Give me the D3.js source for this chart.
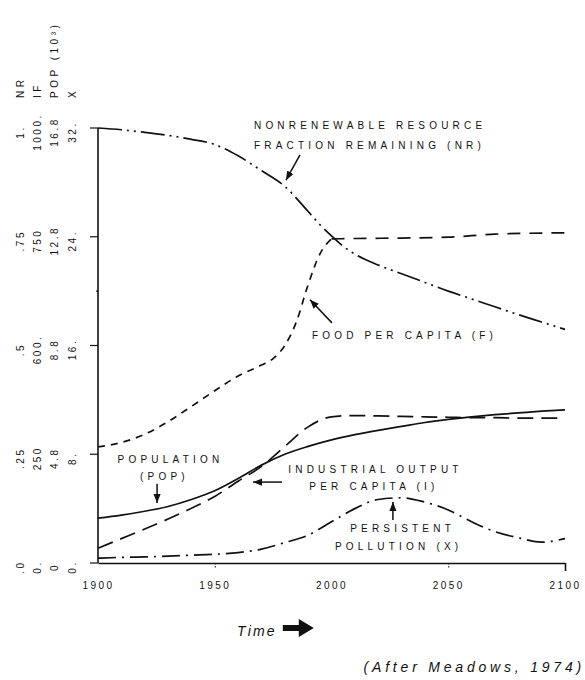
<!DOCTYPE html>
<html>
<head>
<meta charset="utf-8">
<script src="https://cdnjs.cloudflare.com/ajax/libs/d3/7.8.5/d3.min.js"></script>
<style>
body{margin:0;background:#fff;}
text{font-family:"Liberation Sans",Arial,sans-serif;fill:#111;}
</style>
</head>
<body>
<div id="chart"></div>
<script>
const width=585;
const height=680;
const margin={top:128,right:20,bottom:117,left:98};

// values on the shared 0..1 (fraction of full scale) axis
const years=[1900,1910,1920,1930,1940,1950,1960,1970,1980,1990,2000,2010,2020,2030,2040,2050,2060,2070,2080,2090,2100];
const population=[.103,.110,.119,.130,.146,.166,.194,.225,.250,.268,.283,.295,.305,.314,.323,.330,.336,.341,.345,.349,.352];
const industrial=[.034,.056,.078,.101,.126,.153,.188,.222,.268,.313,.336,.339,.338,.337,.336,.335,.334,.334,.333,.333,.333];
const pollution=[.011,.013,.014,.016,.018,.020,.024,.032,.047,.064,.095,.125,.146,.150,.140,.122,.095,.072,.058,.048,.056];
const nrYears=[1900,1910,1920,1930,1940,1950,1960,1970,1980,1990,1995,2000,2005,2010,2020,2030,2040,2050,2060,2070,2080,2090,2100];
const resources=[1.0,.996,.99,.983,.974,.962,.936,.902,.866,.808,.778,.752,.728,.71,.685,.665,.645,.625,.607,.589,.571,.554,.537];
const foodYears=[1900,1910,1920,1930,1940,1950,1960,1970,1975,1980,1985,1990,1995,2000,2010,2030,2050,2070,2100];
const food=[.267,.277,.296,.325,.36,.396,.43,.455,.47,.50,.555,.64,.71,.745,.746,.747,.749,.756,.759];

const yTicks=[0,.25,.5,.75,1];
const nrLabels=[".0",".25",".5",".75","1."];
const ifLabels=["0.","250","600.","750","1000."];
const popLabels=["0","4.8","8.8","12.8","16.8"];
const xLabels=["0.","8.","16.","24.","32."];
const xTicks=[1900,1950,2000,2050,2100];

const svg=d3.select("#chart").append("svg")
    .attr("width",width).attr("height",height);

const x=d3.scaleLinear().domain([1900,2100]).range([margin.left,width-margin.right]);
const y=d3.scaleLinear().domain([0,1]).range([height-margin.bottom,margin.top]);

svg.append("defs").append("marker")
    .attr("id","head").attr("viewBox","0 0 10 10")
    .attr("refX",10).attr("refY",5)
    .attr("markerWidth",6).attr("markerHeight",6)
    .attr("orient","auto")
    .append("path").attr("d","M0,1L10,5L0,9z").attr("fill","#111");

// left axis
svg.append("line")
    .attr("x1",x(1900)).attr("x2",x(1900))
    .attr("y1",y(1)).attr("y2",y(0))
    .attr("stroke","#111").attr("stroke-width",1.6);
svg.selectAll(".ytick").data(yTicks).enter().append("line")
    .attr("x1",x(1900)-8).attr("x2",x(1900))
    .attr("y1",d=>y(d)).attr("y2",d=>y(d))
    .attr("stroke","#111").attr("stroke-width",1.2);
svg.selectAll(".yminor").data([.625]).enter().append("line")
    .attr("x1",x(1900)-2).attr("x2",x(1900))
    .attr("y1",d=>y(d)).attr("y2",d=>y(d))
    .attr("stroke","#111").attr("stroke-width",1.2);

const cols=[
    {x:20,head:"NR",labels:nrLabels},
    {x:37,head:"IF",labels:ifLabels},
    {x:54,head:"POP (10\u00b3)",labels:popLabels},
    {x:72,head:"X",labels:xLabels}
];
cols.forEach(c=>{
    svg.append("text")
        .attr("transform",`translate(${c.x},98) rotate(-90)`)
        .attr("dy","0.35em")
        .style("font-size","10px").style("letter-spacing","3.5px")
        .text(c.head);
    svg.selectAll(null).data(yTicks).enter().append("text")
        .attr("transform",(d,i)=>`translate(${c.x},${y(d)+4}) rotate(-90)`)
        .attr("dy","0.35em").attr("text-anchor","middle")
        .style("font-size","10px").style("letter-spacing","2.5px")
        .text((d,i)=>c.labels[i]);
});

// bottom axis
const xaxis=svg.append("g")
    .attr("transform",`translate(0,${y(0)})`)
    .call(d3.axisBottom(x).tickValues(xTicks).tickFormat(d3.format("d")).tickSizeInner(7).tickSizeOuter(0).tickPadding(12));
xaxis.select(".domain").attr("stroke","#111").attr("stroke-width",1.6);
xaxis.selectAll(".tick line").attr("stroke","#111")
    .attr("stroke-width",d=>(d===2100?1.6:1))
    .attr("stroke-dasharray",d=>(d===2100?null:"1.5,1.5"))
    .attr("y2",d=>(d===2100?8:6));
xaxis.selectAll(".tick line").filter(d=>d===1900||d===2000).remove();
xaxis.selectAll(".tick text")
    .style("font-family","'Liberation Sans',Arial,sans-serif")
    .style("font-size","10px").style("letter-spacing","2.5px").attr("fill","#111");

// series
const line=d3.line().x(d=>x(d[0])).y(d=>y(d[1])).curve(d3.curveMonotoneX);
const series=[
    {pts:d3.zip(nrYears,resources),dash:"24,5,2,5,2,5"},
    {pts:d3.zip(foodYears.filter(d=>d<=2000),food.filter((d,i)=>foodYears[i]<=2000)),dash:"7,6"},
    {pts:d3.zip(foodYears.filter(d=>d>=2000),food.filter((d,i)=>foodYears[i]>=2000)),dash:"13,9"},
    {pts:d3.zip(years,population),dash:null},
    {pts:d3.zip(years,industrial),dash:"16,8"},
    {pts:d3.zip(years,pollution),dash:"18,6,2,6"}
];
svg.selectAll(".series").data(series).enter().append("path")
    .attr("class","series")
    .attr("d",d=>line(d.pts))
    .attr("fill","none").attr("stroke","#111").attr("stroke-width",1.7)
    .attr("stroke-dasharray",d=>d.dash);

// annotations (positions in data units)
const notes=[
    {t:"NONRENEWABLE RESOURCE",yr:1966.8,v:.998},
    {t:"FRACTION REMAINING (NR)",yr:1966.8,v:.952},
    {t:"FOOD PER CAPITA (F)",yr:1991.6,v:.515},
    {t:"POPULATION",yr:1908.4,v:.230},
    {t:"(POP)",yr:1918,v:.191},
    {t:"INDUSTRIAL OUTPUT",yr:1981.5,v:.207},
    {t:"PER CAPITA (I)",yr:1990.5,v:.168},
    {t:"PERSISTENT",yr:2008,v:.071},
    {t:"POLLUTION (X)",yr:2001.5,v:.030}
];
svg.selectAll(".note").data(notes).enter().append("text")
    .attr("x",d=>x(d.yr)).attr("y",d=>y(d.v))
    .style("font-size","10px").style("letter-spacing","4.2px")
    .text(d=>d.t);

const arrows=[
    [1986.5,.938,1980.5,.880],
    [2000.2,.552,1990.8,.605],
    [1925.3,.182,1925.3,.138],
    [1978.8,.186,1966.4,.186],
    [2026.3,.099,2026.3,.140]
];
svg.selectAll(".arrow").data(arrows).enter().append("line")
    .attr("x1",d=>x(d[0])).attr("y1",d=>y(d[1]))
    .attr("x2",d=>x(d[2])).attr("y2",d=>y(d[3]))
    .attr("stroke","#111").attr("stroke-width",1.5)
    .attr("marker-end","url(#head)");

// axis title
const time=svg.append("text")
    .attr("x",237).attr("y",636)
    .style("font-size","14px").style("font-style","italic").style("letter-spacing","2.2px")
    .text("Time");
const tx=237+time.node().getComputedTextLength()+6;
svg.append("path")
    .attr("d",`M${tx},625h16v-6l15,9l-15,9v-6h-16z`)
    .attr("fill","#111");

svg.append("text")
    .attr("x",585).attr("y",672).attr("text-anchor","end")
    .style("font-size","14px").style("font-style","italic").style("letter-spacing","3.8px")
    .text("(After Meadows, 1974)");
</script>
</body>
</html>
